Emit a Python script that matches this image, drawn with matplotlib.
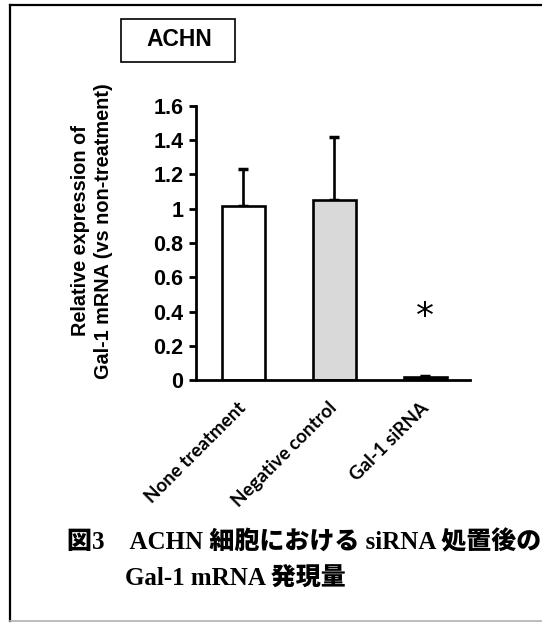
import matplotlib
matplotlib.use("Agg")
import matplotlib.pyplot as plt
from matplotlib.lines import Line2D
from matplotlib.patches import Rectangle

groups = ["None treatment", "Negative control", "Gal-1 siRNA"]
means = [1.017, 1.05, 0.015]
errors = [0.217, 0.37, 0.006]
colors = ["white", "#d9d9d9", "black"]
yticks = [0, 0.2, 0.4, 0.6, 0.8, 1, 1.2, 1.4, 1.6]
ytick_labels = ["0", "0.2", "0.4", "0.6", "0.8", "1", "1.2", "1.4", "1.6"]
panel = "ACHN"
caption1 = "図3\u3000ACHN 細胞における siRNA 処置後の"
caption2 = "Gal-1 mRNA 発現量"

fig = plt.figure(figsize=(5.42, 6.23), dpi=100)
ax = fig.add_axes([0.3616, 0.390, 0.5055, 0.440])

x = list(range(len(groups)))
ax.bar(x, means, width=0.47, color=colors, edgecolor="black", linewidth=1.9, zorder=2)
ax.errorbar(x, means, yerr=[[0] * len(errors), errors], fmt="none", ecolor="black",
            elinewidth=1.9, capsize=3.5, capthick=2.5, zorder=1)

ax.set_xlim(-0.52, 2.49)
ax.set_ylim(0, 1.6)
ax.set_yticks(yticks)
ax.set_yticklabels(ytick_labels, fontsize=15.5, fontweight="bold", family="Liberation Sans")
# rotated labels sit a little left of the bar centres, as in the original
ax.set_xticks([i - 0.066 for i in x])
ax.set_xticklabels(groups, rotation=45, ha="right", rotation_mode="anchor",
                   fontsize=13.5, fontweight="bold", family="Lato")
ax.tick_params(axis="y", direction="out", length=5, width=2, pad=4)
ax.tick_params(axis="x", length=0, pad=14)
for s in ["top", "right"]:
    ax.spines[s].set_visible(False)
for s in ["left", "bottom"]:
    ax.spines[s].set_linewidth(2)
ax.set_ylabel("Relative expression of\nGal-1 mRNA (vs non-treatment)", fontsize=14.3,
              fontweight="bold", family="Liberation Sans", linespacing=1.25)
ax.yaxis.set_label_coords(-0.303, 0.544)

# significance mark over the siRNA bar
ax.text(2, 0.37, "*", ha="center", va="center", fontsize=26, family="DejaVu Sans")

# panel label box
fig.text(179 / 542, 1 - 40 / 623, panel, ha="center", va="center", fontsize=16.5,
         fontweight="bold", family="Liberation Sans")
fig.patches.append(Rectangle((121 / 542, 1 - 62 / 623), 114 / 542, 43 / 623,
                             transform=fig.transFigure, fill=False, edgecolor="black", linewidth=1.2))

# caption
cap_font = ["Liberation Serif", "Noto Sans CJK JP"]
fig.text(67 / 542, 1 - 542 / 623, caption1, ha="left", va="center", fontsize=18,
         fontweight="heavy", family=cap_font)
fig.text(125 / 542, 1 - 578 / 623, caption2, ha="left", va="center", fontsize=18,
         fontweight="heavy", family=cap_font)

# outer frame
fig.lines.append(Line2D([10 / 542, 10 / 542], [2 / 623, 1 - 5 / 623], transform=fig.transFigure,
                        color="black", linewidth=1.6))
fig.lines.append(Line2D([10 / 542, 1], [1 - 5 / 623, 1 - 5 / 623], transform=fig.transFigure,
                        color="black", linewidth=1.6))
fig.lines.append(Line2D([10 / 542, 1], [2 / 623, 2 / 623], transform=fig.transFigure,
                        color="#b0b0b0", linewidth=1.2))

fig.savefig("out.png", dpi=100)
